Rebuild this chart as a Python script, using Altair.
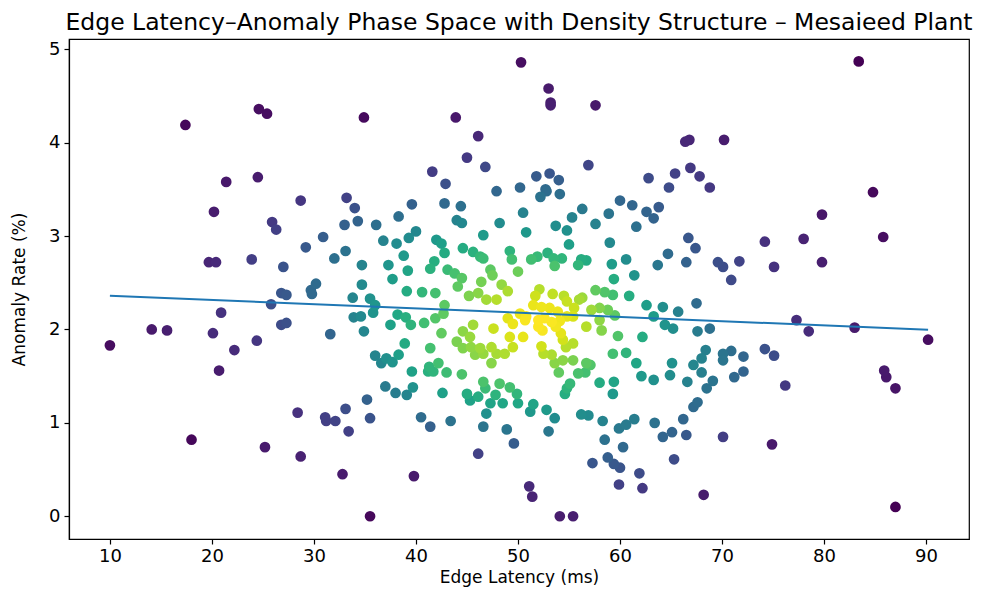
import altair as alt
import numpy as np
import pandas as pd

# Edge latency (ms) and anomaly rate (%)
latency = [
    10.0, 14.1, 15.6, 17.4, 18.0, 20.1, 20.2, 19.7, 20.4, 20.9, 22.2, 24.4, 20.7, 25.9, 26.3, 23.9, 27.0, 26.8, 27.3, 25.8,
    26.8, 27.3, 24.6, 25.4, 21.4, 24.5, 25.2,
    34.9, 43.9, 50.3, 46.1, 45.0, 46.8, 41.6, 42.9, 47.9, 50.2, 53.0, 53.2, 53.2, 57.6, 66.4, 66.8, 70.2, 56.9, 51.8, 53.1,
    54.0, 62.8, 65.4, 66.9, 67.8, 68.8, 64.8, 52.7,
    83.4, 84.8, 79.8, 78.0, 74.2, 85.8, 79.8, 75.1, 77.3, 78.5, 83.0, 90.2, 74.2, 75.1, 85.9, 86.1, 87.0, 76.2, 74.9, 87.0,
    54.1, 55.4, 68.2, 51.1, 51.4, 59.9, 62.2, 61.9, 57.3, 58.8, 59.4, 60.0, 60.3, 58.5, 59.9, 60.6, 61.4, 63.4, 64.2, 65.1,
    66.5, 66.2, 65.3, 70.1, 67.2, 67.6, 68.5, 69.1, 66.6, 68.0, 71.2, 58.3, 56.2, 56.9, 53.0, 52.8, 53.6, 51.2, 51.5, 50.0,
    58.0, 59.4, 59.3, 54.6, 54.8, 55.1, 55.9, 56.6, 54.0, 62.1, 63.3, 64.9, 72.1,
    35.5, 39.8, 32.8, 28.7, 46.1, 28.4, 31.1, 31.2, 32.1, 33.1, 33.4, 35.2, 35.5, 37.0, 38.0, 39.1, 39.7, 39.6, 40.5, 41.4,
    43.4, 42.6, 41.2, 41.7, 43.0, 44.5, 45.0, 45.3, 46.1, 46.6, 46.8, 47.8, 48.2, 47.3, 48.5, 49.2, 49.9, 46.9, 46.6, 48.9,
    49.6,
    28.7, 33.2, 34.0, 33.0, 34.3, 36.1, 30.9, 29.2, 32.0, 33.1, 34.7, 36.8, 38.1, 38.3, 39.6, 39.3, 40.0, 42.8, 44.4, 44.0,
    44.5, 48.2, 46.6, 42.0, 42.5, 42.8, 38.8, 37.3, 41.8, 41.4, 39.2, 37.7, 43.1, 44.6, 45.6, 46.3, 46.6, 43.8, 44.5, 44.1,
    46.4, 47.3, 47.5, 49.2, 49.4, 50.0, 48.4, 49.0, 45.2, 46.1, 46.9, 47.9, 34.7, 39.1, 40.6, 41.9, 30.2, 29.7, 29.8, 33.8,
    35.5, 36.0, 33.9, 34.6, 35.8, 31.6, 34.9, 37.5, 38.2, 39.0, 39.5, 40.8, 41.9, 42.7, 42.8, 42.5, 44.0, 44.6, 45.3, 45.6,
    44.6, 45.4, 46.3, 45.8, 46.6, 47.6, 47.4, 47.9, 48.7, 49.5, 49.2, 38.9, 41.4, 36.0, 37.1, 38.3, 36.6, 37.7, 41.3, 42.2,
    47.4, 49.0, 49.5,
    52.2, 52.8, 54.1, 50.5, 55.3, 56.3, 58.9, 60.0, 61.2, 62.6, 63.3, 63.8, 57.6, 61.6, 53.7, 54.8, 50.8, 55.0, 59.0, 66.7,
    67.4, 64.7, 63.7, 66.5, 69.6, 70.1, 71.7, 70.9, 60.6, 59.2, 61.4, 59.4, 56.2, 56.7, 55.9, 51.3, 51.9, 52.9, 53.5, 54.3,
    53.6,
    52.1, 51.7, 53.4, 54.5, 54.8, 56.3, 57.6, 58.5, 59.3, 60.9,
    51.5, 52.3, 53.1, 53.9, 55.5, 56.0, 57.2, 58.0, 58.8, 59.5,
    50.2, 50.8, 50.7, 52.0, 52.6, 53.3, 54.1, 54.8, 55.4,
    52.0, 52.4, 53.7, 54.2, 56.7, 58.0, 58.2,
    50.5, 54.4, 55.4, 54.7, 52.3, 52.5, 53.3, 53.6, 54.4, 55.4, 56.7, 57.1, 59.8, 59.3, 60.6, 62.2, 61.6, 62.6, 64.2, 65.7,
    63.3, 64.4, 65.2, 67.5, 67.6, 68.8, 65.1, 67.2, 68.0, 68.4, 70.1, 70.9, 70.1, 72.1,
]
anomaly = [
    1.83, 2.00, 1.99, 4.19, 0.82, 1.96, 3.26, 2.72, 2.72, 2.18, 1.78, 1.88, 1.56, 3.15, 3.07, 2.75, 2.67, 2.39, 2.37, 2.27,
    2.05, 2.07, 4.36, 4.31, 3.58, 3.63, 0.74,
    4.27, 4.27, 4.86, 4.07, 3.84, 3.74, 3.69, 3.56, 3.48, 3.52, 4.58, 4.43, 4.40, 4.40, 4.01, 4.03, 4.03, 3.76, 3.64, 3.67,
    3.60, 3.62, 3.67, 3.73, 3.64, 3.52, 3.52, 3.50,
    4.87, 3.47, 3.23, 2.97, 2.94, 2.99, 2.72, 2.67, 2.10, 1.98, 2.02, 1.89, 1.79, 1.72, 1.56, 1.49, 1.37, 1.40, 0.77, 0.10,
    0.00, 0.00, 0.23, 0.32, 0.21, 0.34, 0.30, 0.46, 0.57, 0.63, 0.56, 0.52, 0.74, 0.82, 0.94, 0.98, 1.04, 1.00, 0.85, 0.90,
    0.87, 1.04, 0.61, 0.85, 1.17, 1.22, 1.37, 1.45, 1.44, 1.54, 1.49, 1.02, 1.09, 1.08, 0.91, 1.14, 1.05, 1.12, 1.20, 1.21,
    1.43, 1.44, 1.31, 1.31, 1.37, 1.42, 1.53, 1.54, 1.54, 1.50, 1.46, 1.51, 1.55,
    0.00, 0.43, 0.45, 0.64, 0.67, 1.11, 1.06, 1.02, 1.02, 1.15, 0.91, 1.25, 1.05, 1.39, 1.32, 1.30, 1.38, 1.55, 1.06, 0.96,
    1.02, 1.32, 1.55, 1.55, 1.54, 1.52, 1.31, 1.24, 1.28, 1.44, 1.37, 1.30, 1.42, 1.21, 1.21, 1.38, 1.31, 1.10, 0.96, 0.93,
    0.78,
    3.38, 3.41, 3.30, 3.12, 3.16, 3.12, 2.99, 2.88, 2.76, 2.84, 2.69, 2.95, 2.92, 3.21, 3.34, 2.98, 3.05, 3.35, 3.32, 3.17,
    3.14, 3.14, 3.01, 2.96, 2.92, 2.82, 2.79, 2.69, 2.73, 2.65, 2.63, 2.54, 2.64, 2.87, 2.83, 2.78, 2.76, 2.60, 2.55, 2.46,
    2.51, 2.64, 2.58, 2.84, 2.75, 2.62, 2.48, 2.41, 2.36, 2.39, 2.32, 2.32, 2.48, 2.41, 2.40, 2.39, 2.49, 2.42, 2.38, 2.34,
    2.33, 2.26, 2.13, 2.14, 2.18, 1.95, 1.98, 2.05, 2.16, 2.13, 2.05, 2.07, 2.12, 2.17, 2.26, 1.96, 1.87, 1.98, 1.92, 2.05,
    1.80, 1.81, 1.80, 1.73, 1.74, 2.01, 1.81, 1.74, 1.74, 1.81, 1.92, 1.85, 1.80, 1.72, 1.69, 1.73, 1.64, 1.65, 1.60, 1.64,
    1.64, 2.12, 2.06,
    3.42, 3.48, 3.45, 3.25, 3.20, 3.29, 3.24, 3.38, 3.33, 3.26, 3.19, 3.31, 3.13, 3.10, 3.11, 3.06, 3.04, 2.91, 2.93, 2.98,
    2.87, 2.81, 2.69, 2.72, 2.72, 2.67, 2.73, 2.53, 2.75, 2.70, 2.58, 2.54, 2.75, 2.74, 2.69, 2.75, 2.78, 2.82, 2.76, 2.76,
    2.68,
    2.43, 2.36, 2.38, 2.36, 2.30, 2.34, 2.42, 2.40, 2.37, 2.36,
    2.26, 2.24, 2.23, 2.19, 2.23, 2.32, 2.21, 2.23, 2.21, 2.15,
    2.17, 2.14, 2.10, 2.10, 2.12, 2.08, 2.09, 2.14, 2.14,
    2.03, 1.99, 2.03, 1.96, 2.03, 2.10, 1.99,
    1.92, 1.89, 1.85, 1.81, 1.82, 1.74, 1.73, 1.64, 1.67, 1.67, 1.64, 1.62, 1.93, 1.74, 1.75, 1.92, 1.64, 2.26, 2.24, 2.19,
    2.14, 2.05, 2.01, 2.28, 1.98, 2.01, 1.64, 1.62, 1.69, 1.78, 1.74, 1.77, 1.67, 1.71,
]
x_ticks = [10, 20, 30, 40, 50, 60, 70, 80, 90]
y_ticks = [0, 1, 2, 3, 4, 5]

x = np.array(latency, dtype=float)
y = np.array(anomaly, dtype=float)

# point density (Gaussian KDE, Scott's rule) used for the colour, as in the original
xy = np.vstack([x, y])
n = xy.shape[1]
factor = n ** (-1.0 / 6.0)
cov = np.cov(xy) * factor ** 2
inv = np.linalg.inv(cov)
d0 = xy[0][:, None] - xy[0][None, :]
d1 = xy[1][:, None] - xy[1][None, :]
q = inv[0, 0] * d0 ** 2 + 2 * inv[0, 1] * d0 * d1 + inv[1, 1] * d1 ** 2
density = np.exp(-0.5 * q).sum(axis=1) / (n * 2 * np.pi * np.sqrt(np.linalg.det(cov)))

df = pd.DataFrame({"latency": x, "anomaly": y, "density": density}).sort_values("density")

x_scale = alt.Scale(domain=[5.99, 94.21], nice=False, zero=False)
y_scale = alt.Scale(domain=[-0.2435, 5.11], nice=False, zero=False)

points = alt.Chart(df).mark_circle(size=115, opacity=1).encode(
    x=alt.X("latency:Q", scale=x_scale,
            axis=alt.Axis(values=x_ticks, format="d", title="Edge Latency (ms)")),
    y=alt.Y("anomaly:Q", scale=y_scale,
            axis=alt.Axis(values=y_ticks, format="d", title="Anomaly Rate (%)")),
    color=alt.Color("density:Q", scale=alt.Scale(scheme="viridis"), legend=None),
)

fit = alt.Chart(df).transform_regression("latency", "anomaly").mark_line(
    color="#1f77b4", strokeWidth=2
).encode(x="latency:Q", y="anomaly:Q")

chart = alt.layer(points, fit).properties(
    width=900,
    height=500,
    autosize=alt.AutoSizeParams(type="none"),
    padding={"left": 61, "top": 31, "right": 11, "bottom": 48},
    title=alt.TitleParams(
        "Edge Latency\u2013Anomaly Phase Space with Density Structure \u2013 Mesaieed Plant",
        font="DejaVu Sans", fontSize=23.5, fontWeight="normal", color="black",
        anchor="middle", offset=5,
    ),
).configure_view(
    stroke="black", strokeWidth=1.2
).configure_axis(
    grid=False,
    domainColor="black", domainWidth=1.2,
    tickColor="black", tickSize=5, tickWidth=1.2,
    labelColor="black", labelFont="DejaVu Sans", labelFontSize=18,
    titleColor="black", titleFont="DejaVu Sans", titleFontSize=17, titleFontWeight="normal",
).configure_axisX(
    labelPadding=3, titlePadding=4,
).configure_axisY(
    labelPadding=4, titlePadding=20,
)

chart.save("out.html", embed_options={"renderer": "svg", "actions": False})
